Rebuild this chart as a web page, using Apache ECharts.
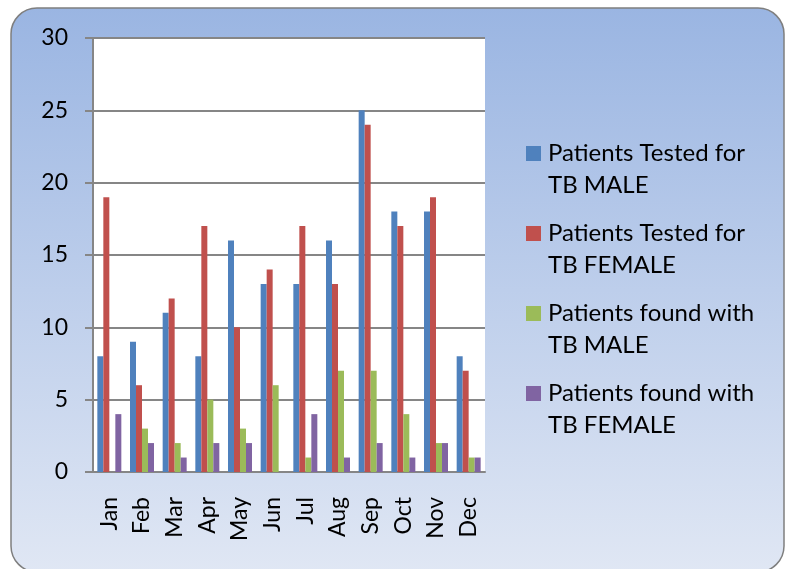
<!DOCTYPE html>
<html lang="en">
<head>
    <meta charset="UTF-8">
    <title>TB patients</title>
    <style>
        html, body { margin: 0; padding: 0; background: #fff; }
        #main { width: 790px; height: 569px; }
    </style>
</head>
<body>
<script src="https://cdn.jsdelivr.net/npm/echarts@6/dist/echarts.min.js"></script>
<div id="main"></div>
<script>
    var months = ['Jan', 'Feb', 'Mar', 'Apr', 'May', 'Jun', 'Jul', 'Aug', 'Sep', 'Oct', 'Nov', 'Dec'];
    var seriesNames = [
        'Patients Tested for TB MALE',
        'Patients Tested for TB FEMALE',
        'Patients found with TB MALE',
        'Patients found with TB FEMALE'
    ];
    var testedMale   = [8, 9, 11, 8, 16, 13, 13, 16, 25, 18, 18, 8];
    var testedFemale = [19, 6, 12, 17, 10, 14, 17, 13, 24, 17, 19, 7];
    var foundMale    = [0, 3, 2, 5, 3, 6, 1, 7, 7, 4, 2, 1];
    var foundFemale  = [4, 2, 1, 2, 2, 0, 4, 1, 2, 1, 2, 1];
    var yTicks = [0, 5, 10, 15, 20, 25, 30];

    var colors = ['#4f81bd', '#c0504d', '#9bbb59', '#8064a2'];
    var values = [testedMale, testedFemale, foundMale, foundFemale];
    var font = 'Lato';

    var series = [];
    for (var i = 0; i < seriesNames.length; i++) {
        series.push({
            name: seriesNames[i],
            type: 'bar',
            barWidth: 6,
            barGap: '0%',
            itemStyle: { color: colors[i] },
            data: values[i]
        });
    }

    var chart = echarts.init(document.getElementById('main'));
    chart.setOption({
        animation: false,
        backgroundColor: '#fff',
        color: colors,
        // rounded chart-area box behind everything
        graphic: [{
            type: 'rect',
            z: -10,
            silent: true,
            shape: { x: 11, y: 8, width: 773, height: 564, r: 26 },
            style: {
                fill: new echarts.graphic.LinearGradient(0, 0, 0, 1, [
                    { offset: 0, color: '#9ab5e2' },
                    { offset: 1, color: '#e0e7f4' }
                ]),
                stroke: '#7f7f7f',
                lineWidth: 1.5
            }
        }],
        grid: {
            left: 93, top: 38, right: 305, bottom: 97,
            show: true, backgroundColor: '#fff', borderWidth: 0
        },
        legend: {
            orient: 'vertical',
            left: 521,
            top: 132,
            itemWidth: 15,
            itemHeight: 46,
            itemGap: 16,
            // square sits at the top so it lines up with the first text line
            icon: 'path://M0,0h15v15h-15zM0,46',
            formatter: function (name) {
                return name.replace(' TB ', '\nTB ');
            },
            textStyle: {
                fontFamily: font, fontSize: 24, color: '#000',
                lineHeight: 32, padding: [0, 0, 0, 2]
            }
        },
        xAxis: {
            type: 'category',
            data: months,
            axisLine: { lineStyle: { color: '#868686', width: 2 } },
            axisTick: { length: 6, lineStyle: { color: '#868686', width: 2 } },
            axisLabel: {
                interval: 0, rotate: 90, margin: 25,
                fontFamily: font, fontSize: 23, color: '#000'
            }
        },
        yAxis: {
            type: 'value',
            min: yTicks[0],
            max: yTicks[yTicks.length - 1],
            interval: 5,
            axisLine: { show: true, lineStyle: { color: '#868686', width: 2 } },
            axisTick: { show: true, length: 8, lineStyle: { color: '#868686', width: 2 } },
            splitLine: { lineStyle: { color: '#868686', width: 2 } },
            axisLabel: { margin: 25, fontFamily: font, fontSize: 23, color: '#000' }
        },
        series: series
    });
</script>
</body>
</html>
